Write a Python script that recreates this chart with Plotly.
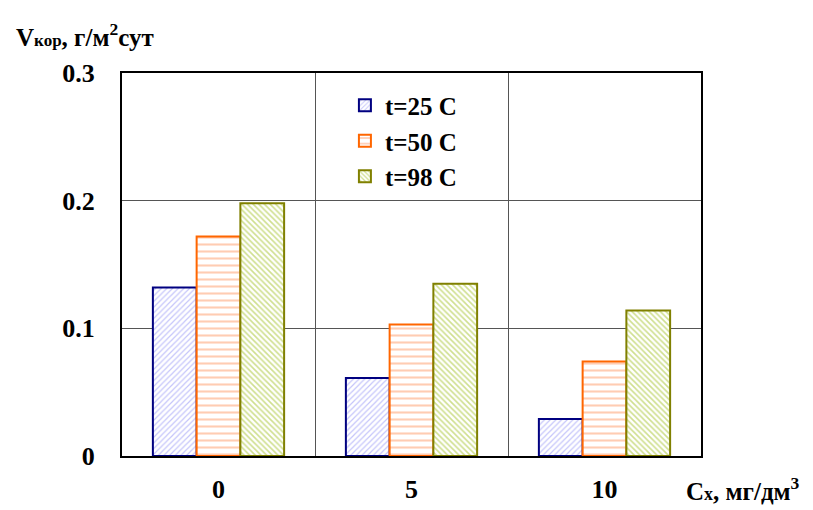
import plotly.graph_objects as go

categories = ["0", "5", "10"]
series_names = ["t=25 C", "t=50 C", "t=98 C"]
v_25 = [0.132, 0.061, 0.029]
v_50 = [0.172, 0.103, 0.074]
v_98 = [0.198, 0.135, 0.114]
y_ticks = [0, 0.1, 0.2, 0.3]
y_ticktext = ["0", "0.1", "0.2", "0.3"]

series = [v_25, v_50, v_98]
borders = ["#000080", "#FF6600", "#808000"]
fgs = ["#8C8CF5", "#FF9966", "#A0C020"]
shapes = ["/", "-", "\\"]
sizes = [4, 7, 4]
solid = [0.3, 0.3, 0.4]

FONT = "Liberation Serif"
xpos = list(range(len(categories)))

fig = go.Figure()
for name, vals, bc, fg, sh, sz, so in zip(series_names, series, borders, fgs, shapes, sizes, solid):
    fig.add_trace(go.Bar(
        x=xpos, y=vals, name=name,
        marker=dict(color="white", line=dict(color=bc, width=2),
                    pattern=dict(shape=sh, fgcolor=fg, bgcolor="white", size=sz, solidity=so)),
    ))

fig.update_layout(
    width=813, height=510,
    margin=dict(l=122, r=112, t=73, b=54),
    paper_bgcolor="white", plot_bgcolor="white",
    barmode="group", bargap=0.32, bargroupgap=0,
    font=dict(family=FONT, size=26, color="black"),
    legend=dict(x=0.385, y=0.975, xanchor="left", yanchor="top",
                bgcolor="white", font=dict(family=FONT, size=25, color="black", weight="bold"),
                itemwidth=30, tracegroupgap=0),
    xaxis=dict(range=[-0.5, 2.5], tickvals=xpos, ticktext=categories,
               showgrid=False, showline=True, linecolor="black", linewidth=2, mirror=True,
               ticks="", ticklabelstandoff=9, automargin=False,
               tickfont=dict(family=FONT, size=26, weight="bold"),
               minor=dict(tickvals=[0.5, 1.5], showgrid=True, gridcolor="#555555", gridwidth=1, ticks=""),
               zeroline=False),
    yaxis=dict(range=[0, 0.3], tickvals=y_ticks, ticktext=y_ticktext,
               showgrid=True, gridcolor="#555555", gridwidth=1,
               showline=True, linecolor="black", linewidth=2, mirror=True,
               ticks="", ticklabelstandoff=20, zeroline=False, automargin=False,
               tickfont=dict(family=FONT, size=26, weight="bold")),
    annotations=[
        dict(text="<b>V<span style='font-size:17px'>кор</span>, г/м<sup>2</sup>сут</b>",
             xref="paper", yref="paper", x=-0.187, y=1.10, xanchor="left", yanchor="middle",
             showarrow=False, font=dict(family=FONT, size=25)),
        dict(text="<b>C<span style='font-size:18px'>х</span>, мг/дм<sup>3</sup></b>",
             xref="paper", yref="paper", x=0.97, y=-0.085, xanchor="left", yanchor="middle",
             showarrow=False, font=dict(family=FONT, size=25)),
    ],
)

fig.write_html("out.html")
